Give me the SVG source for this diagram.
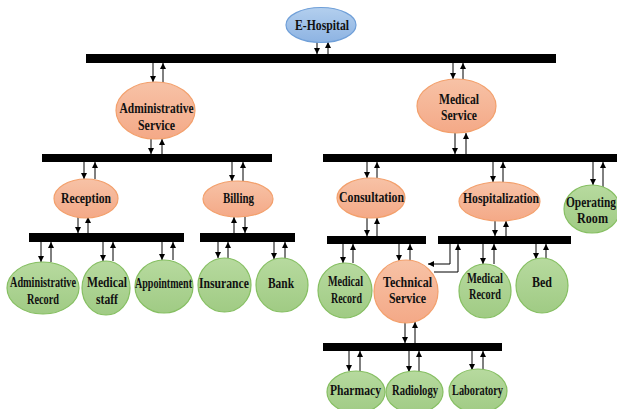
<svg xmlns="http://www.w3.org/2000/svg" width="617" height="409" viewBox="0 0 617 409">
  <defs>
    <linearGradient id="gBlue" x1="0" y1="0" x2="0" y2="1">
      <stop offset="0" stop-color="#b3cfee"/>
      <stop offset="1" stop-color="#8db3e2"/>
    </linearGradient>
    <linearGradient id="gOrange" x1="0" y1="0" x2="0" y2="1">
      <stop offset="0" stop-color="#f7c2a6"/>
      <stop offset="1" stop-color="#f4a987"/>
    </linearGradient>
    <linearGradient id="gGreen" x1="0" y1="0" x2="0" y2="1">
      <stop offset="0" stop-color="#b7da9f"/>
      <stop offset="1" stop-color="#a0cb84"/>
    </linearGradient>
    <marker id="ah" markerUnits="userSpaceOnUse" markerWidth="7" markerHeight="7" refX="6" refY="3" orient="auto">
      <path d="M0,0 L6,3 L0,6 z" fill="#000"/>
    </marker>
  </defs>
  <style>
    .blue { fill: url(#gBlue); stroke: #6f9fd8; stroke-width: 1.2; }
    .orange { fill: url(#gOrange); stroke: #f3a06c; stroke-width: 1.2; }
    .green { fill: url(#gGreen); stroke: #86bf62; stroke-width: 1.2; }
    .bar { fill: #000; }
    text { font-family: "Liberation Serif", "Times New Roman", serif; font-weight: bold; font-size: 14px; fill: #111; text-anchor: middle; }
    .lg { font-size: 15px; }
    .conn line, .conn polyline { stroke: #000; stroke-width: 1; fill: none; marker-end: url(#ah); }
  </style>

  <!-- horizontal bus bars -->
  <g id="bars">
    <rect class="bar" x="86" y="54" width="470" height="9"/>
    <rect class="bar" x="42" y="154" width="230" height="8"/>
    <rect class="bar" x="29" y="233" width="155" height="9"/>
    <rect class="bar" x="200" y="233" width="95" height="9"/>
    <rect class="bar" x="323" y="154" width="294" height="8"/>
    <rect class="bar" x="327" y="236" width="99" height="8"/>
    <rect class="bar" x="438" y="236" width="133" height="8"/>
    <rect class="bar" x="323" y="343" width="179" height="8"/>
  </g>

  <!-- paired down/up arrows -->
  <g class="conn" id="connectors">
    <line x1="317" y1="42" x2="317" y2="54"/><line x1="328" y1="54" x2="328" y2="42"/>
    <line x1="153" y1="63" x2="153" y2="82"/><line x1="163" y1="82" x2="163" y2="63"/>
    <line x1="151" y1="139" x2="151" y2="154"/><line x1="162" y1="154" x2="162" y2="139"/>
    <line x1="453" y1="63" x2="453" y2="79"/><line x1="463" y1="79" x2="463" y2="63"/>
    <line x1="455" y1="133" x2="455" y2="154"/><line x1="466" y1="154" x2="466" y2="133"/>
    <line x1="84" y1="162" x2="84" y2="179"/><line x1="95" y1="179" x2="95" y2="162"/>
    <line x1="232" y1="162" x2="232" y2="181"/><line x1="243" y1="181" x2="243" y2="162"/>
    <line x1="78" y1="217" x2="78" y2="233"/><line x1="88" y1="233" x2="88" y2="217"/>
    <line x1="245" y1="217" x2="245" y2="233"/><line x1="234" y1="233" x2="234" y2="217"/>
    <line x1="41" y1="242" x2="41" y2="262"/><line x1="51" y1="262" x2="51" y2="242"/>
    <line x1="103" y1="242" x2="103" y2="261"/><line x1="113" y1="261" x2="113" y2="242"/>
    <line x1="162" y1="242" x2="162" y2="260"/><line x1="173" y1="260" x2="173" y2="242"/>
    <line x1="218" y1="242" x2="218" y2="258"/><line x1="228" y1="258" x2="228" y2="242"/>
    <line x1="274" y1="242" x2="274" y2="259"/><line x1="285" y1="259" x2="285" y2="242"/>
    <line x1="367" y1="162" x2="367" y2="178"/><line x1="377" y1="178" x2="377" y2="162"/>
    <line x1="493" y1="162" x2="493" y2="182"/><line x1="503" y1="182" x2="503" y2="162"/>
    <line x1="593" y1="162" x2="593" y2="185"/><line x1="603" y1="187" x2="603" y2="162"/>
    <line x1="367" y1="218" x2="367" y2="236"/><line x1="377" y1="236" x2="377" y2="218"/>
    <line x1="495" y1="221" x2="495" y2="236"/><line x1="506" y1="236" x2="506" y2="221"/>
    <line x1="343" y1="244" x2="343" y2="263"/><line x1="353" y1="263" x2="353" y2="244"/>
    <line x1="399" y1="244" x2="399" y2="261"/><line x1="410" y1="261" x2="410" y2="244"/>
    <line x1="483" y1="244" x2="483" y2="264"/><line x1="494" y1="264" x2="494" y2="244"/>
    <line x1="536" y1="244" x2="536" y2="259"/><line x1="546" y1="259" x2="546" y2="244"/>
    <line x1="405" y1="322" x2="405" y2="343"/><line x1="415" y1="343" x2="415" y2="322"/>
    <line x1="349" y1="351" x2="349" y2="371"/><line x1="360" y1="371" x2="360" y2="351"/>
    <line x1="409" y1="351" x2="409" y2="372"/><line x1="419" y1="372" x2="419" y2="351"/>
    <line x1="472" y1="351" x2="472" y2="370"/><line x1="483" y1="370" x2="483" y2="351"/>
    <polyline points="450,244 450,264 428,264"/>
    <polyline points="434,272 458,272 458,244"/>
  </g>

  <g id="e-hospital">
    <ellipse class="blue" cx="321" cy="25" rx="35" ry="17.5"/>
    <text class="lg" x="322" y="30" textLength="54" lengthAdjust="spacingAndGlyphs">E-Hospital</text>
  </g>

  <g id="administrative-service">
    <ellipse class="orange" cx="155.5" cy="110.5" rx="39.5" ry="28.5"/>
    <text class="lg" x="156.5" y="113" textLength="74" lengthAdjust="spacingAndGlyphs">Administrative</text>
    <text class="lg" x="156.5" y="130" textLength="37" lengthAdjust="spacingAndGlyphs">Service</text>
  </g>

  <g id="medical-service">
    <ellipse class="orange" cx="456.5" cy="106" rx="39.5" ry="27"/>
    <text class="lg" x="459" y="104" textLength="40" lengthAdjust="spacingAndGlyphs">Medical</text>
    <text class="lg" x="459" y="120" textLength="36" lengthAdjust="spacingAndGlyphs">Service</text>
  </g>

  <g id="reception">
    <ellipse class="orange" cx="86" cy="198.5" rx="32" ry="19.5"/>
    <text class="lg" x="86" y="203" textLength="50" lengthAdjust="spacingAndGlyphs">Reception</text>
  </g>

  <g id="billing">
    <ellipse class="orange" cx="238" cy="199" rx="35" ry="18"/>
    <text class="lg" x="238.5" y="203" textLength="31" lengthAdjust="spacingAndGlyphs">Billing</text>
  </g>

  <g id="administrative-record">
    <ellipse class="green" cx="43" cy="288" rx="36" ry="26"/>
    <text x="43" y="287" textLength="66" lengthAdjust="spacingAndGlyphs">Administrative</text>
    <text x="43" y="304" textLength="32" lengthAdjust="spacingAndGlyphs">Record</text>
  </g>

  <g id="medical-staff">
    <ellipse class="green" cx="106" cy="288" rx="24" ry="27"/>
    <text class="lg" x="107" y="287" textLength="40" lengthAdjust="spacingAndGlyphs">Medical</text>
    <text class="lg" x="107" y="304" textLength="22" lengthAdjust="spacingAndGlyphs">staff</text>
  </g>

  <g id="appointment">
    <ellipse class="green" cx="164" cy="286.5" rx="29" ry="26.5"/>
    <text x="163.5" y="288" textLength="57" lengthAdjust="spacingAndGlyphs">Appointment</text>
  </g>

  <g id="insurance">
    <ellipse class="green" cx="224.5" cy="285" rx="26.5" ry="27"/>
    <text class="lg" x="224" y="288" textLength="50" lengthAdjust="spacingAndGlyphs">Insurance</text>
  </g>

  <g id="bank">
    <ellipse class="green" cx="282" cy="285" rx="26" ry="27"/>
    <text class="lg" x="281" y="288" textLength="26" lengthAdjust="spacingAndGlyphs">Bank</text>
  </g>

  <g id="consultation">
    <ellipse class="orange" cx="371" cy="198" rx="34" ry="20"/>
    <text class="lg" x="371.5" y="202" textLength="65" lengthAdjust="spacingAndGlyphs">Consultation</text>
  </g>

  <g id="hospitalization">
    <ellipse class="orange" cx="499.5" cy="201.5" rx="40.5" ry="19.5"/>
    <text class="lg" x="501" y="203" textLength="76" lengthAdjust="spacingAndGlyphs">Hospitalization</text>
  </g>

  <g id="operating-room">
    <ellipse class="green" cx="592" cy="209" rx="28" ry="24"/>
    <text class="lg" x="591" y="207" textLength="50" lengthAdjust="spacingAndGlyphs">Operating</text>
    <text class="lg" x="592.5" y="223" textLength="31" lengthAdjust="spacingAndGlyphs">Room</text>
  </g>

  <g id="medical-record-consultation">
    <ellipse class="green" cx="345" cy="290.5" rx="27" ry="27.5"/>
    <text x="345.5" y="286" textLength="35" lengthAdjust="spacingAndGlyphs">Medical</text>
    <text x="346.5" y="303" textLength="31" lengthAdjust="spacingAndGlyphs">Record</text>
  </g>

  <g id="technical-service">
    <ellipse class="orange" cx="406" cy="291.5" rx="32" ry="31.5"/>
    <text class="lg" x="407.5" y="287" textLength="49" lengthAdjust="spacingAndGlyphs">Technical</text>
    <text class="lg" x="407.5" y="303" textLength="37" lengthAdjust="spacingAndGlyphs">Service</text>
  </g>

  <g id="medical-record-hospitalization">
    <ellipse class="green" cx="485" cy="291" rx="26" ry="27"/>
    <text x="485" y="283" textLength="36" lengthAdjust="spacingAndGlyphs">Medical</text>
    <text x="485" y="299" textLength="32" lengthAdjust="spacingAndGlyphs">Record</text>
  </g>

  <g id="bed">
    <ellipse class="green" cx="542" cy="285.5" rx="26" ry="27.5"/>
    <text class="lg" x="542" y="287" textLength="20" lengthAdjust="spacingAndGlyphs">Bed</text>
  </g>

  <g id="pharmacy">
    <ellipse class="green" cx="356" cy="392" rx="29" ry="21"/>
    <text class="lg" x="355.5" y="395" textLength="51" lengthAdjust="spacingAndGlyphs">Pharmacy</text>
  </g>

  <g id="radiology">
    <ellipse class="green" cx="414.5" cy="392" rx="28.5" ry="21"/>
    <text x="415" y="395" textLength="46" lengthAdjust="spacingAndGlyphs">Radiology</text>
  </g>

  <g id="laboratory">
    <ellipse class="green" cx="478" cy="391" rx="29" ry="22"/>
    <text x="477.5" y="395" textLength="51" lengthAdjust="spacingAndGlyphs">Laboratory</text>
  </g>
</svg>
